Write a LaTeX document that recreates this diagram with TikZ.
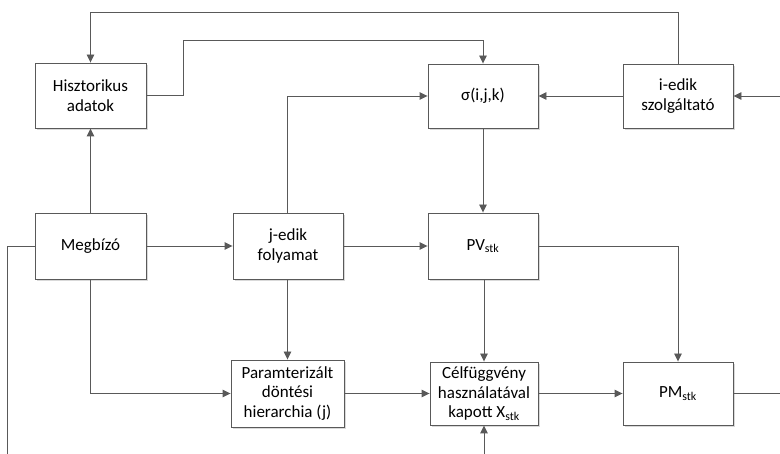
\documentclass[tikz,border=0pt]{standalone}
\usepackage{fontspec}
\setmainfont{Carlito}
\usetikzlibrary{arrows.meta,shadows}
\definecolor{lc}{HTML}{595959}
\tikzset{
  box/.style={draw=lc, line width=0.9pt, fill=white, align=center, inner sep=1pt,
    font=\fontsize{17}{19.5}\selectfont,
    drop shadow={shadow xshift=2pt, shadow yshift=-2pt, fill=black!25, opacity=0.6}},
  con/.style={draw=lc, line width=0.9pt},
  arr/.style={con, -{Triangle[length=8pt,width=7.5pt]}}
}
\begin{document}
\begin{tikzpicture}[x=1pt,y=-1pt]
\useasboundingbox (0,0) rectangle (780,454);
\node[box, minimum width=111pt, minimum height=65pt] (hist) at (90.5,95.5) {Hisztorikus\\adatok};
\node[box, minimum width=110pt, minimum height=64pt] (sig) at (483,96) {σ(i,j,k)};
\node[box, minimum width=110pt, minimum height=64pt] (ied) at (678,96) {i-edik\\szolgáltató};
\node[box, minimum width=111pt, minimum height=66pt] (meg) at (90.5,246) {Megbízó};
\node[box, minimum width=110pt, minimum height=66pt] (jed) at (288,246) {j-edik\\folyamat};
\node[box, minimum width=110pt, minimum height=66pt] (pv) at (483,246) {PV\textsubscript{stk}};
\node[box, minimum width=113pt, minimum height=67pt] (par) at (287.5,393.5) {Paramterizált\\döntési\\hierarchia (j)};
\node[box, minimum width=108pt, minimum height=63pt] (cel) at (484,393.5) {Célfüggvény\\használatával\\kapott X\textsubscript{stk}};
\node[box, minimum width=110pt, minimum height=63pt] (pm) at (678,393.5) {PM\textsubscript{stk}};
\coordinate (inied) at (780,96);
\coordinate (outpm) at (780,393.5);
\coordinate (incel) at (484,454);
\coordinate (outmeg) at (7,454);

\draw[arr] (ied.north) |- (90.5,12) -- (hist.north);
\draw[arr] (hist.east) -- (183,95.5) |- (483,40) -- (sig.north);
\draw[arr] (jed.north -| 287,0) |- (sig.west);
\draw[arr] (ied.west) -- (sig.east);
\draw[arr] (inied) -- (ied.east);
\draw[arr] (meg.north) -- (hist.south);
\draw[arr] (meg.east) -- (jed.west);
\draw[arr] (jed.east) -- (pv.west);
\draw[arr] (sig.south) -- (pv.north);
\draw[arr] (pv.east) -| (pm.north);
\draw[arr] (pv.south -| cel.north) -- (cel.north);
\draw[arr] (jed.south -| par.north) -- (par.north);
\draw[arr] (meg.south) |- (par.west);
\draw[arr] (par.east) -- (cel.west);
\draw[arr] (cel.east) -- (pm.west);
\draw[con] (pm.east) -- (outpm);
\draw[arr] (incel) -- (cel.south);
\draw[con] (meg.west) -- (7,246) -- (outmeg);
\end{tikzpicture}
\end{document}
